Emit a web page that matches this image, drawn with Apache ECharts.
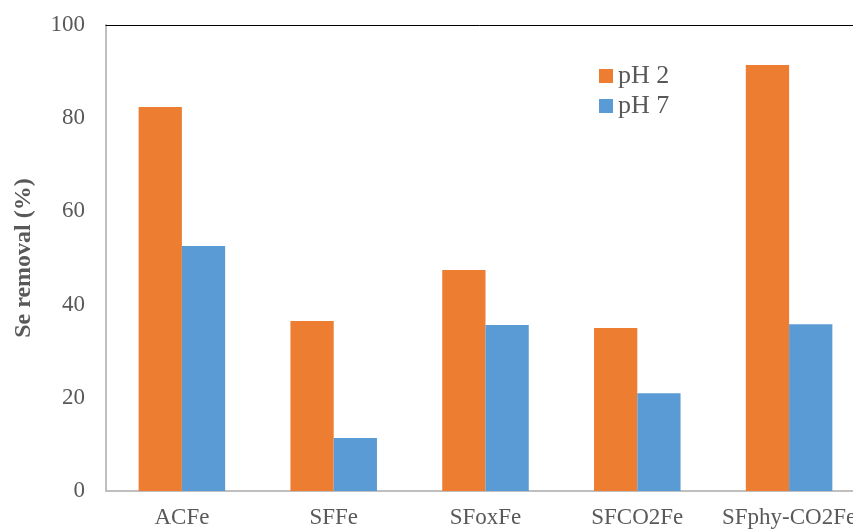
<!DOCTYPE html>
<html><head><meta charset="utf-8">
<script src="https://cdn.jsdelivr.net/npm/echarts@6/dist/echarts.min.js"></script>
<style>html,body{margin:0;padding:0;background:#fff}#c{width:853px;height:529px}</style>
</head><body><div id="c"></div>
<script>
const categories = ['ACFe', 'SFFe', 'SFoxFe', 'SFCO2Fe', 'SFphy-CO2Fe'];
const ph2 = [82.4, 36.5, 47.4, 35.0, 91.4];
const ph7 = [52.6, 11.4, 35.6, 21.0, 35.8];
const yTicks = [0, 20, 40, 60, 80, 100];

const chart = echarts.init(document.getElementById('c'));
const font = "'Liberation Serif', 'Times New Roman', serif";
chart.setOption({
  animation: false,
  textStyle: { fontFamily: font },
  grid: { left: 106, width: 759, top: 25, height: 466, containLabel: false, outerBoundsMode: 'none' },
  legend: {
    data: ['pH 2', 'pH 7'],
    orient: 'vertical',
    left: 594, top: 58,
    itemWidth: 14, itemHeight: 14, itemGap: 4,
    textStyle: { fontFamily: font, fontSize: 26, color: '#595959' },
    icon: 'rect'
  },
  xAxis: [{
    type: 'category', data: categories,
    axisLine: { lineStyle: { color: '#BFBFBF', width: 2 } },
    axisTick: { show: false },
    axisLabel: { fontFamily: font, fontSize: 23, color: '#595959', margin: 15, interval: 0, hideOverlap: false }
  }, {
    type: 'category', data: categories, position: 'top',
    axisLine: { lineStyle: { color: '#000', width: 1 } },
    axisTick: { show: false }, axisLabel: { show: false }
  }],
  yAxis: {
    type: 'value', min: yTicks[0], max: yTicks[yTicks.length - 1], interval: 20,
    name: 'Se removal (%)', nameLocation: 'middle', nameGap: 70,
    nameTextStyle: { fontFamily: font, fontSize: 24, fontWeight: 'bold', color: '#595959' },
    axisLine: { show: true, lineStyle: { color: '#BFBFBF', width: 2 } },
    axisTick: { show: false },
    splitLine: { show: false },
    axisLabel: { fontFamily: font, fontSize: 23, color: '#595959', margin: 21 }
  },
  series: [
    { name: 'pH 2', type: 'bar', data: ph2, barGap: '0%', barCategoryGap: '43%', itemStyle: { color: '#ED7D31' } },
    { name: 'pH 7', type: 'bar', data: ph7, barGap: '0%', barCategoryGap: '43%', itemStyle: { color: '#5B9BD5' } }
  ]
});
</script></body></html>
